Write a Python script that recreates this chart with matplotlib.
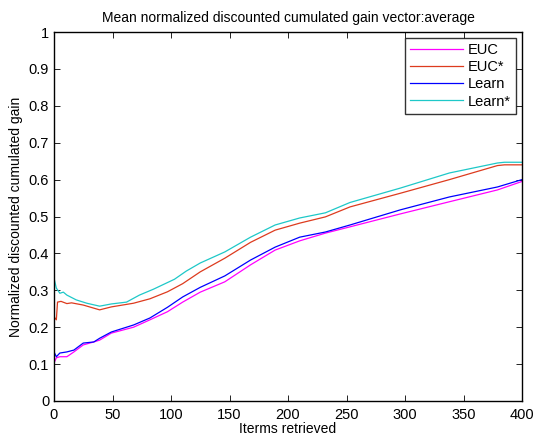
import matplotlib
matplotlib.use("Agg")
import matplotlib.pyplot as plt

plt.rcParams["font.family"] = ["Liberation Sans", "DejaVu Sans"]

# values (items retrieved, mean nDCG)
x_euc = [0, 2, 5, 8, 11, 17, 25, 34, 39, 49, 68, 82, 97, 110, 125, 146, 168, 189,
         210, 232, 253, 296, 338, 379, 400]
y_euc = [0.103, 0.117, 0.12, 0.12, 0.12, 0.133, 0.152, 0.16, 0.165, 0.184, 0.2,
         0.22, 0.242, 0.268, 0.295, 0.323, 0.369, 0.409, 0.434, 0.455, 0.472,
         0.507, 0.54, 0.572, 0.595]

x_eucs = [0, 2, 3, 6, 11, 15, 20, 25, 39, 49, 68, 82, 97, 110, 125, 146, 168, 189,
          210, 232, 253, 296, 338, 379, 385, 400]
y_eucs = [0.228, 0.22, 0.268, 0.27, 0.264, 0.266, 0.263, 0.26, 0.247, 0.255, 0.265,
          0.277, 0.296, 0.318, 0.35, 0.387, 0.43, 0.463, 0.482, 0.499, 0.526,
          0.563, 0.6, 0.638, 0.64, 0.64]

x_learn = [0, 2, 5, 11, 17, 25, 34, 39, 49, 68, 82, 97, 110, 125, 146, 168, 189,
           210, 232, 253, 296, 338, 379, 400]
y_learn = [0.133, 0.12, 0.13, 0.133, 0.138, 0.157, 0.16, 0.17, 0.187, 0.206, 0.225,
           0.254, 0.282, 0.308, 0.339, 0.382, 0.417, 0.444, 0.458, 0.477, 0.518,
           0.553, 0.58, 0.6]

x_learns = [0, 2, 5, 8, 11, 19, 28, 39, 49, 62, 73, 85, 103, 113, 125, 146, 168, 189,
            210, 232, 253, 296, 338, 379, 385, 400]
y_learns = [0.333, 0.306, 0.292, 0.295, 0.287, 0.274, 0.265, 0.257, 0.263, 0.268,
            0.287, 0.303, 0.33, 0.352, 0.374, 0.404, 0.444, 0.477, 0.496, 0.51,
            0.538, 0.577, 0.618, 0.645, 0.647, 0.647]

fig = plt.figure(figsize=(5.35, 4.37), dpi=100)
ax = fig.add_axes([54 / 535, 1 - 401 / 437, 468 / 535, 369 / 437])

ax.plot(x_euc, y_euc, color="#ff00ff", lw=0.9, label="EUC")
ax.plot(x_eucs, y_eucs, color="#dd3b1e", lw=0.9, label="EUC*")
ax.plot(x_learn, y_learn, color="#0000ff", lw=0.9, label="Learn")
ax.plot(x_learns, y_learns, color="#1ec8c8", lw=0.9, label="Learn*")

ax.set_xlim(0, 400)
ax.set_ylim(0, 1)
ax.set_xticks(range(0, 401, 50))
ax.set_yticks([i / 10 for i in range(11)])
ax.set_yticklabels(["0", "0.1", "0.2", "0.3", "0.4", "0.5", "0.6", "0.7", "0.8", "0.9", "1"])
ax.tick_params(direction="in", top=True, right=True, labelsize=10.5, length=4, width=0.6)
ax.tick_params(axis="x", pad=5)
for sp in ax.spines.values():
    sp.set_linewidth(1.0)

ax.set_title("Mean normalized discounted cumulated gain vector:average", fontsize=10, pad=7)
ax.set_xlabel("Iterms retrieved", fontsize=10, labelpad=0)
ax.set_ylabel("Normalized discounted cumulated gain", fontsize=10, labelpad=4)

leg = ax.legend(loc="upper right", fontsize=10.5, fancybox=False, edgecolor="black",
                handlelength=3.6, handletextpad=0.35, labelspacing=0.22,
                borderpad=0.35, borderaxespad=0.4)
leg.get_frame().set_linewidth(1.0)

plt.savefig("out.png", dpi=100, facecolor="white")
